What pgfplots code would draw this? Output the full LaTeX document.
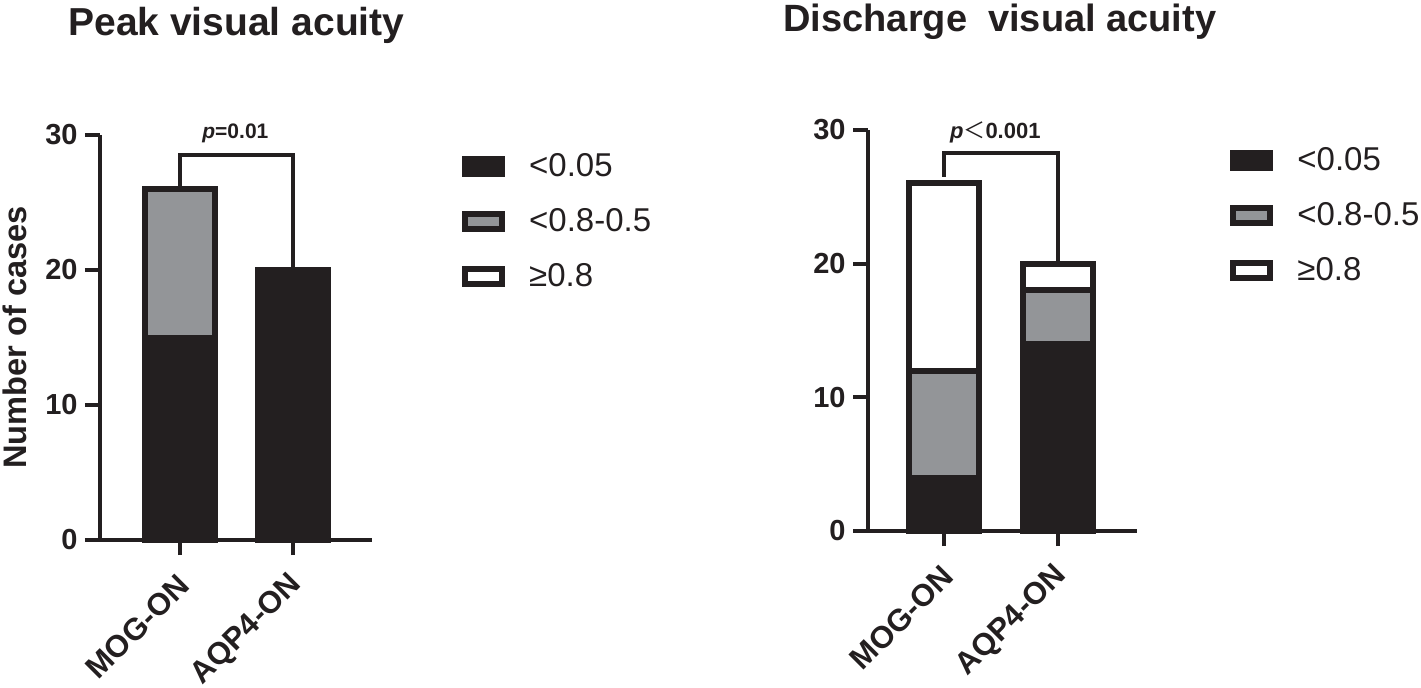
\documentclass[border=0pt]{standalone}
\usepackage{pgfplots}
\pgfplotsset{compat=1.18}
\usepackage{fontspec}
\setmainfont{Liberation Sans}
\newfontfamily\cjk{Noto Sans CJK SC}
\definecolor{bk}{HTML}{231F20}
\definecolor{gr}{HTML}{939598}
\pgfplotsset{
  mystyle/.style={
    scale only axis,
    ybar stacked,
    axis lines*=left,
    axis line style={line width=2pt, bk},
    every tick/.style={line width=2pt, bk},
    major tick length=7.5pt,
    tick align=outside,
    ymin=0, ymax=30,
    ytick={0,10,20,30},
    xtick={0,1},
    xticklabels={MOG-ON,AQP4-ON},
    /pgf/number format/assume math mode=true,
    yticklabel style={font=\bfseries\fontsize{14.5}{16}\selectfont, text=bk, inner sep=0pt, xshift=-3.5pt},
    xticklabel style={font=\bfseries\fontsize{15.5}{17}\selectfont, text=bk, xshift=2pt, yshift=-12.5pt, rotate=45, anchor=east, inner sep=0pt},
    clip=false,
    legend image code/.code={\draw[#1, line width=3pt] (0pt,-3.75pt) rectangle (18.5pt,3.75pt);},
    legend cell align=left,
    legend style={draw=none, fill=none, anchor=north west, inner sep=0pt,
      font=\fontsize{16.5}{19}\selectfont, text=bk, row sep=14.5pt, column sep=12pt,
      nodes={inner sep=0pt}},
  },
}
\begin{document}
\begin{tikzpicture}
\useasboundingbox (0,0) rectangle (710.5pt,343.5pt);
% Left chart
\begin{axis}[mystyle,
  at={(50pt,73.5pt)}, anchor=south west,
  width=136pt, height=202.5pt,
  xmin=-0.708, xmax=1.699,
  bar width=0.628,
  ylabel={Number of cases},
  ylabel style={font=\bfseries\fontsize{16.3}{18}\selectfont, text=bk, at={(axis description cs:-0.272,0.5)}, anchor=base, rotate=0, inner sep=0pt},
  legend style={at={(axis description cs:1.33,0.956)}},
]
\addplot[fill=bk, draw=bk, line width=3pt] coordinates {(0,15) (1,20)};
\addplot[fill=gr, draw=bk, line width=3pt] coordinates {(0,11) (1,0)};
\addplot[fill=white, draw=bk, line width=3pt] coordinates {(0,0) (1,0)};
\legend{{<0.05},{<0.8-0.5},{≥0.8}}
\draw[bk, line width=2pt] (axis cs:0,26.2) -- (axis cs:0,28.5) -- (axis cs:1,28.5) -- (axis cs:1,20);
\node[font=\bfseries\fontsize{10.5}{12}\selectfont, text=bk, inner sep=0pt] at (axis cs:0.49,30.15) {\textit{p}=0.01};
\end{axis}
% Right chart
\begin{axis}[mystyle,
  at={(434pt,78pt)}, anchor=south west,
  width=134.5pt, height=200.5pt,
  xmin=-0.667, xmax=1.693,
  bar width=0.61,
  legend style={at={(axis description cs:1.3457,0.9576)}},
]
\addplot[fill=bk, draw=bk, line width=3pt] coordinates {(0,4) (1,14)};
\addplot[fill=gr, draw=bk, line width=3pt] coordinates {(0,8) (1,4)};
\addplot[fill=white, draw=bk, line width=3pt] coordinates {(0,14) (1,2)};
\legend{{<0.05},{<0.8-0.5},{≥0.8}}
\draw[bk, line width=2pt] (axis cs:0,26.5) -- (axis cs:0,28.3) -- (axis cs:1,28.3) -- (axis cs:1,20.1);
\node[font=\bfseries\fontsize{11}{12}\selectfont, text=bk, inner sep=0pt] at (axis cs:0.45,29.8) {\textit{p}{\cjk\mdseries ＜}0.001};
\end{axis}
\node[anchor=base west, inner sep=0pt, font=\bfseries\fontsize{19.5}{22}\selectfont, text=bk] at (34pt,325.5pt) {Peak visual acuity};
\node[anchor=base west, inner sep=0pt, font=\bfseries\fontsize{19}{22}\selectfont, text=bk] at (391.5pt,327.5pt) {Discharge\ \ visual acuity};
\end{tikzpicture}
\end{document}
